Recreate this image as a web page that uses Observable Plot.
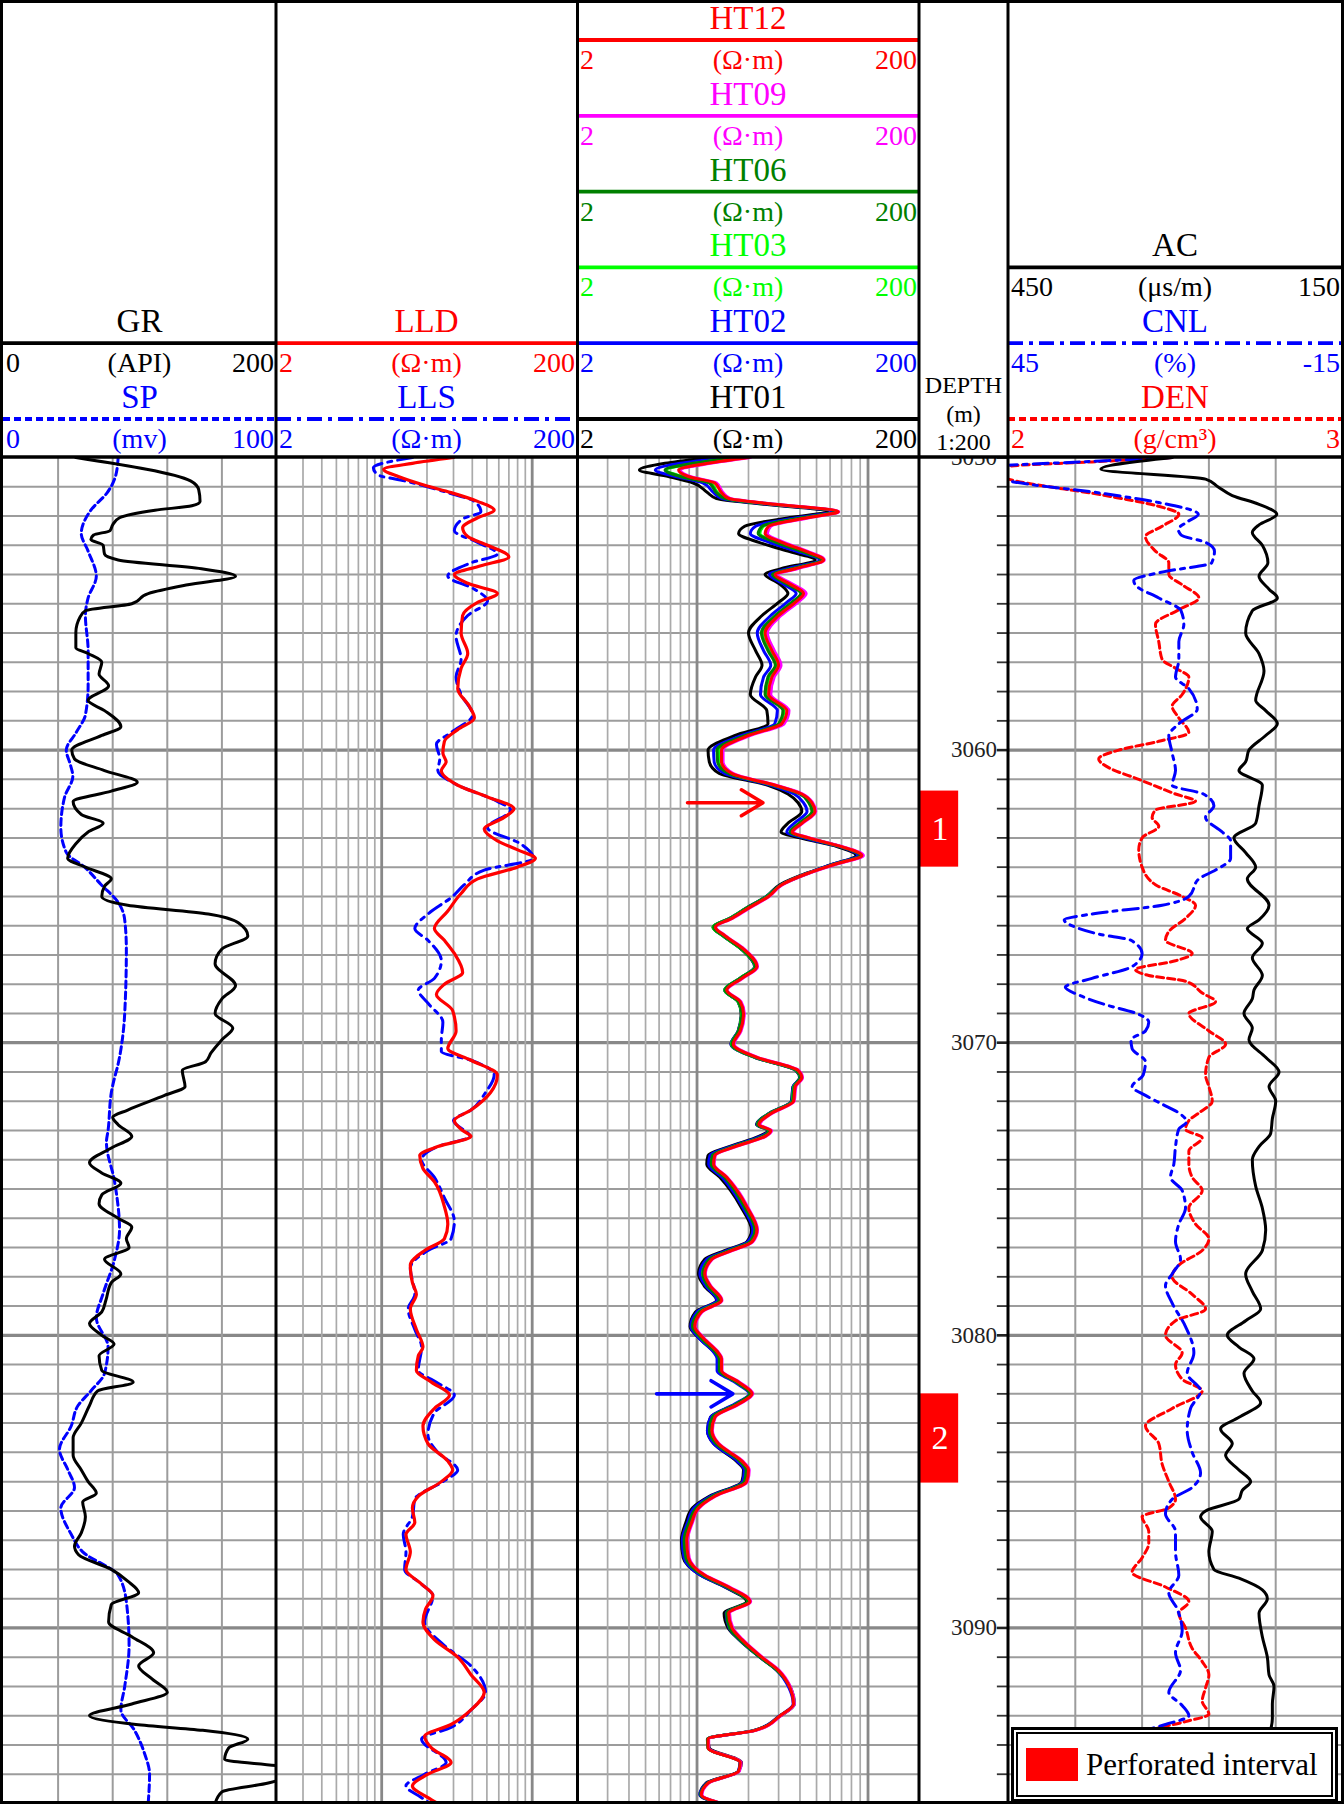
<!DOCTYPE html>
<html>
<head>
<meta charset="utf-8">
<script src="https://cdn.jsdelivr.net/npm/d3@7"></script>
<script src="https://cdn.jsdelivr.net/npm/@observablehq/plot@0.6"></script>
<style>
html, body { margin: 0; padding: 0; background: #fff; }
#root { position: relative; width: 1344px; height: 1804px; overflow: hidden; background: #fff;
  font-family: "Liberation Serif", "Times New Roman", serif; }
</style>
</head>
<body>
<div id="root"></div>
<script>
// ---------------- DATA ----------------
const DEPTH_RANGE = [3050, 3096];
const depthLabels = [3050, 3060, 3070, 3080, 3090];

// [depth (m), value]
const GR = [[3050.0,53],[3050.8,137],[3051.1,143],[3051.5,144],[3051.65,138],[3051.8,111],[3052.06,85],[3052.3,80],[3052.5,78],[3052.65,66],[3052.8,64],[3053.0,73],[3053.3,74],[3053.5,84],[3053.8,145],[3054.06,170],[3054.35,135],[3054.65,106],[3055.0,94],[3055.24,60],[3055.46,56],[3055.98,53],[3056.5,53],[3056.7,62],[3057.0,72],[3057.4,70],[3057.8,77],[3058.3,62],[3058.65,74],[3059.2,86],[3059.5,72],[3060.0,50],[3060.3,52],[3060.7,74],[3061.1,98],[3061.4,79],[3061.76,51],[3062.2,57],[3062.5,73],[3062.8,62],[3063.2,53],[3063.7,47],[3064.0,60],[3064.4,79],[3064.65,74],[3065.0,72],[3065.3,91],[3065.6,150],[3065.9,172],[3066.35,179],[3066.8,160],[3067.3,155],[3068.05,170],[3068.5,160],[3069.0,155],[3069.5,168],[3069.9,160],[3070.35,152],[3070.65,148],[3070.95,131],[3071.5,133],[3071.8,118],[3072.3,91],[3072.55,80],[3072.8,84],[3073.2,94],[3073.6,79],[3074.1,63],[3074.45,72],[3074.8,86],[3075.2,72],[3075.5,70],[3076.0,84],[3076.3,94],[3076.7,90],[3077.0,92],[3077.4,74],[3077.9,86],[3078.2,79],[3078.8,75],[3079.2,72],[3079.6,63],[3080.0,72],[3080.3,81],[3080.7,70],[3081.2,72],[3081.6,95],[3081.9,69],[3082.4,63],[3083.0,57],[3083.5,51],[3084.1,51],[3084.6,57],[3085.0,62],[3085.4,68],[3085.7,58],[3086.2,60],[3086.75,57],[3087.2,52],[3087.5,55],[3088.0,79],[3088.4,91],[3088.8,99],[3089.2,79],[3089.8,77],[3090.3,94],[3090.85,110],[3091.3,99],[3091.75,109],[3092.2,120],[3092.6,94],[3093.0,63],[3093.3,97],[3093.5,146],[3093.8,179],[3094.1,165],[3094.5,162],[3094.75,205],[3095.0,210],[3095.3,194],[3095.6,160],[3096.0,155]];

const SP = [[3050.0,42],[3050.65,41],[3051.2,38],[3051.8,32],[3052.6,28.5],[3053.2,31],[3054.06,34],[3054.8,31],[3055.4,30],[3056.6,31],[3057.8,31],[3058.8,30],[3059.4,26.6],[3060.0,23],[3060.5,24.5],[3060.9,25.4],[3061.6,22.4],[3062.65,21],[3063.5,23],[3064.0,29.7],[3064.6,35.8],[3065.2,42],[3065.8,44.4],[3066.8,45],[3069.0,44.4],[3070.5,42.5],[3071.7,39.5],[3073.0,38.3],[3073.4,37.7],[3074.75,40.7],[3076.4,42.5],[3077.4,40.7],[3078.6,36.4],[3079.4,34],[3080.4,38.3],[3081.3,37],[3081.9,32],[3082.4,27.3],[3083.1,24.8],[3083.9,20.5],[3084.6,23.6],[3085.2,26],[3085.9,21],[3086.8,24.8],[3087.4,29],[3088.2,42],[3089.1,45],[3090.6,46],[3092.0,44.4],[3092.8,43],[3093.5,48],[3094.3,51.7],[3095.0,53.5],[3096.0,53]];

const LLD = [[3050.0,30],[3050.2,16],[3050.4,10.3],[3050.65,12.9],[3050.95,19.3],[3051.2,28.9],[3051.5,43.4],[3051.8,55.9],[3052.06,43.4],[3052.4,34.5],[3052.7,37.3],[3053.0,50.5],[3053.4,70],[3053.7,45.6],[3054.0,30.4],[3054.3,37.3],[3054.65,58.7],[3054.95,43.4],[3055.4,34.5],[3056.0,33.7],[3056.7,37.3],[3057.2,33.7],[3057.9,32],[3058.5,38.2],[3058.9,41.3],[3059.3,32],[3059.7,26.1],[3060.1,25.5],[3060.4,26.8],[3060.7,24.9],[3061.2,32],[3061.6,50.5],[3062.0,75.6],[3062.3,65],[3062.7,48],[3063.1,58.7],[3063.4,79.5],[3063.7,105],[3064.0,79.5],[3064.4,43.4],[3064.9,33.7],[3065.5,27.5],[3066.1,22.4],[3066.5,26.1],[3066.95,30.4],[3067.6,34.5],[3068.0,26.1],[3068.35,23.1],[3068.9,29.6],[3069.6,31.2],[3070.2,27.5],[3070.6,39.2],[3071.1,58.7],[3071.7,52.9],[3072.3,39.2],[3072.66,30.4],[3073.0,34.5],[3073.2,39.2],[3073.55,23.6],[3073.85,17.9],[3074.3,18.8],[3074.75,22.4],[3075.6,26.1],[3076.2,27.5],[3076.7,26.1],[3077.1,19.3],[3077.6,15.5],[3078.2,16],[3078.6,17],[3079.1,15.5],[3079.8,17],[3080.4,18.8],[3080.7,17.5],[3081.2,17],[3081.6,21.4],[3082.05,28.2],[3082.5,22.4],[3083.1,18.8],[3083.7,20.3],[3084.3,27.5],[3084.6,29.6],[3085.0,24.9],[3085.5,17.5],[3085.9,16],[3086.4,16.6],[3086.8,14.5],[3087.4,15.5],[3088.0,14.5],[3088.5,18.4],[3088.9,21.9],[3089.35,19.6],[3089.8,18.8],[3090.4,22.4],[3091.0,32],[3091.6,39.2],[3092.2,48],[3092.8,39.2],[3093.3,28.9],[3093.7,19.3],[3094.1,21.4],[3094.6,28.9],[3095.0,20.3],[3095.4,16],[3095.8,20.3],[3096.0,23.6]];

const LLS = [[3050.0,16],[3050.35,8.8],[3050.6,9.5],[3050.8,14.2],[3051.2,27.5],[3051.5,41.3],[3051.85,45.6],[3052.1,34.5],[3052.5,30.4],[3052.9,43.4],[3053.3,58.7],[3053.6,39.2],[3054.05,27.5],[3054.5,41.3],[3054.9,50.5],[3055.4,37.3],[3056.1,31.2],[3056.9,33.7],[3057.5,31.2],[3058.1,33.7],[3058.8,40.2],[3059.4,28.9],[3059.8,23.1],[3060.3,24.3],[3060.7,23.6],[3061.2,32],[3061.75,58.7],[3062.05,71.9],[3062.65,50.5],[3063.2,83.6],[3063.7,102],[3064.1,48],[3064.6,35.4],[3065.0,29.6],[3065.6,20.3],[3066.1,16.6],[3066.5,20.3],[3067.2,24.9],[3067.8,22.4],[3068.2,17.5],[3068.65,20.3],[3069.3,25.5],[3069.9,24.9],[3070.3,24.9],[3070.6,39.2],[3071.1,55.9],[3071.7,49],[3072.3,39.2],[3072.66,30],[3073.2,38.5],[3073.55,23.6],[3074.0,18.4],[3074.6,22.4],[3075.3,26.1],[3076.1,30.4],[3076.7,28.9],[3077.1,20.3],[3077.7,15.5],[3078.6,16.6],[3079.1,15],[3079.8,16.6],[3080.4,18.4],[3081.2,17.5],[3081.6,23.1],[3082.05,30.4],[3082.65,22.4],[3083.4,20.3],[3084.0,23.6],[3084.6,32],[3085.0,25.5],[3085.6,16.6],[3086.2,16],[3086.8,13.9],[3087.4,14.5],[3088.0,14.2],[3088.5,18.4],[3088.9,21.9],[3089.8,19.3],[3090.6,26.1],[3091.3,39.2],[3092.2,49],[3092.8,39.2],[3093.4,28.9],[3093.8,18.4],[3094.6,26.8],[3095.0,19.3],[3095.4,14.5],[3095.8,18.4],[3096.0,21]];

// array-induction curves share one depth list
const htDepth = [
  3050.0,3050.2,3050.43,3050.65,3050.87,3051.2,3051.4,3051.6,3051.85,3052.05,
  3052.35,3052.6,3052.9,3053.2,3053.5,3053.8,3054.0,3054.3,3054.65,3054.95,
  3055.4,3056.0,3056.6,3057.1,3057.5,3058.1,3058.65,3059.1,3059.5,3060.0,
  3060.4,3060.8,3061.2,3061.5,3061.8,3062.1,3062.5,3062.8,3063.0,3063.3,
  3063.6,3063.9,3064.2,3064.6,3065.0,3065.4,3065.75,3066.05,3066.35,3066.8,
  3067.4,3067.8,3068.2,3068.6,3069.0,3069.6,3070.05,3070.5,3070.95,3071.2,
  3071.5,3072.0,3072.4,3072.8,3073.0,3073.2,3073.55,3073.85,3074.15,3074.6,
  3075.05,3075.6,3076.4,3076.8,3077.1,3077.4,3077.9,3078.3,3078.8,3079.2,
  3079.7,3080.1,3080.6,3080.8,3081.2,3081.6,3082.0,3082.35,3082.8,3083.25,
  3083.7,3084.3,3084.6,3085.0,3085.5,3085.9,3086.4,3087.0,3087.6,3088.2,
  3088.6,3089.1,3089.5,3090.0,3090.4,3091.0,3091.45,3092.05,3092.6,3093.0,
  3093.5,3093.8,3094.1,3094.6,3094.9,3095.3,3095.7,3096.0];

const HT12 = [
  20,11.6,7.8,8.9,12.7,13.9,15.3,28.6,67,45,
  26.2,25,31.3,43,55,37.5,28.6,34.3,42,37.5,
  30,25,27.4,30,27.4,26.2,33.5,31.3,20,13.9,
  13.9,16,28.6,41,47,49,41,36,45,70,
  92,64,45,31.3,26.2,20,16,12.8,14.6,18.7,
  22.4,18.3,14.9,17.9,18.7,17.9,16.3,22.4,39,41,
  37.5,36.7,27.4,23,27,25,16.7,12.7,12.5,14.9,
  17.1,19.5,22.4,21,16,12.2,11.1,11.9,13.9,10.6,
  9.7,10.9,13.3,13.9,13.9,17.5,21,17.5,12.7,12.2,
  13.3,18.3,20,19.5,12.7,10.2,9.3,8.7,8.9,11.1,
  15.3,20.4,15.3,16,18.3,23.9,29.9,35,36.7,30.6,
  21.9,11.6,11.6,17.9,17.5,11.6,10.6,13.9];
const HT09 = [
  20.5,12,8,9.1,13,14.2,15.6,29,67.5,46,
  27,25.8,32.2,44,55.5,38.5,29.5,35.5,43.5,38.8,
  31,25.8,28.3,31,28.3,27,34.5,32.3,20.6,14.2,
  14.2,16.3,29,41.5,47.5,49.5,41.5,36.5,45.5,71,
  94,65,45.5,31.6,26.4,20.2,16.1,12.9,14.7,18.9,
  22.6,18.5,15,18.1,18.9,18.1,16.5,22.6,39.4,41.4,
  37.9,37,27.7,23.3,27.3,25.2,16.9,12.8,12.6,15,
  17.3,19.7,22.6,21.2,16.2,12.3,11.2,12,14,10.7,
  9.8,11,13.4,14,14,17.7,21.2,17.7,12.8,12.3,
  13.4,18.5,20.2,19.7,12.8,10.3,9.4,8.8,9,11.2,
  15.5,20.6,15.5,16.2,18.5,24.1,30.2,35.4,37.1,30.9,
  22.1,11.7,11.7,18.1,17.7,11.7,10.7,14];
const HT06 = [
  17,9.5,6.5,8,11.8,13,14.6,27.5,65,42,
  24,22.8,29,40.5,53.5,36,27.6,33,40.5,35.8,
  28.7,23.8,26,28.7,26,25,31.8,30,19.2,13.1,
  13.2,15.3,28,40,45,47,39.5,35,44,69,
  90,63.5,45,31.2,25.8,19.6,15.7,12.5,14.3,18.3,
  22,17.9,14.6,17.5,18.3,17.5,16,22,38.3,40.3,
  37,36.2,27,22.6,26.5,24.3,16.2,12.3,12.1,14.5,
  16.6,18.9,21.8,20.4,15.5,11.8,10.8,11.5,13.5,10.3,
  9.4,10.6,12.9,13.5,13.5,17,20.4,17,12.3,11.8,
  12.9,17.8,19.4,18.9,12.3,9.9,9,8.4,8.6,10.8,
  14.9,19.8,14.9,15.5,17.8,23.4,29.5,35.2,37,30.6,
  21.8,11.5,11.6,17.9,17.5,11.5,10.5,13.8];
const HT03 = [
  17.5,9.8,6.6,8.2,12,13.2,14.8,27.8,66,43,
  24.5,23.3,29.5,41,54,36.4,28,33.4,41,36.3,
  29,24.1,26.4,29,26.4,25.3,32.2,30.4,19.5,13.4,
  13.4,15.5,28.2,40.5,46,48,40.2,35.4,44.5,69.5,
  91,64,45,31.2,25.6,19.5,15.6,12.4,14.2,18.2,
  21.9,17.8,14.5,17.4,18.2,17.5,15.9,21.9,38.2,40.2,
  36.8,36,26.9,22.6,26.4,24.4,16.3,12.4,12.2,14.6,
  16.7,19,21.9,20.5,15.6,11.9,10.8,11.6,13.6,10.3,
  9.5,10.6,13,13.6,13.6,17.1,20.5,17.1,12.4,11.9,
  13,17.9,19.5,19,12.4,10,9.1,8.5,8.7,10.9,
  15,19.9,15,15.6,17.9,23.5,29.5,35.3,37.1,30.7,
  21.9,11.6,11.6,18,17.6,11.6,10.6,13.9];
const HT02 = [
  15,8,5.7,7.5,10.8,12.5,14,26.5,62,39,
  22,20.5,26.5,38,52,34,26.5,31.5,38,33.5,
  27,22.5,24.5,27,24.5,23.5,29.5,28.5,18.3,12.5,
  12.6,14.5,27,37,42,44,37,33.5,42,68,
  87,62,44.5,31,25.5,19.5,15.6,12.5,14.2,18.2,
  21.8,17.8,14.5,17.4,18.2,17.4,15.8,21.8,38,40,
  36.5,35.7,26.7,22.4,26.4,23.5,15.7,11.9,11.7,14,
  16.1,18.4,21.2,19.8,15,11.4,10.4,11.2,13.1,10,
  9.2,10.3,12.6,13.1,13.1,16.6,20.2,16.6,12,11.5,
  12.5,17.2,18.9,18.5,12,9.6,8.8,8.2,8.4,10.5,
  14.6,19.8,14.8,15.4,17.7,23.3,29.3,34.5,36.5,30.4,
  21.6,11.5,11.6,17.8,17.4,11.4,10.4,13.7];
const HT01 = [
  12,6.5,4.6,6.8,9.5,11.5,13,25,58,35,
  19,17.5,23,34,49,31,25,30,34,30,
  24,20,22,24,22,20.5,25.6,26,16.7,11.6,
  11.8,13.5,26,34,39,41,34,31,40,66,
  85,62,44,30.5,25.4,19.4,15.5,12.4,14.2,18.1,
  21.7,17.8,14.5,17.4,18.1,17.4,15.8,21.7,37.8,39.8,
  36.4,35.6,26.6,22.3,26,23,15.4,11.6,11.4,13.6,
  15.7,18,20.8,19.6,14.6,11.1,10.2,11,13,9.8,
  9.1,10.3,12.7,13.4,13.4,16.9,20.5,16.8,12,11.5,
  12.5,17,18.7,18.3,11.8,9.4,8.6,8.1,8.3,10.5,
  14.5,19.5,14.4,15.2,17.6,23.3,29.3,35,37,30.8,
  21.5,11.6,11.8,18.2,17.5,11.3,10.4,13.7];

const AC = [[3050.0,303],[3050.4,367],[3050.74,273],[3051.0,262],[3051.3,249],[3051.6,225],[3051.94,209],[3052.3,225],[3052.56,231],[3053.0,222],[3053.6,217],[3054.06,225],[3054.5,216],[3054.8,208.5],[3055.24,231],[3056.0,237],[3056.7,225],[3057.3,220.5],[3058.3,228],[3058.65,219],[3059.1,208.5],[3059.5,219],[3060.0,234],[3060.4,237],[3060.7,243],[3061.2,222],[3061.9,225],[3062.5,228],[3063.0,247.5],[3063.5,237],[3064.0,228],[3064.4,235.5],[3065.3,216],[3065.8,225],[3066.1,235.5],[3066.6,222],[3067.1,231],[3067.7,222],[3068.2,229.5],[3068.5,231],[3069.0,238.5],[3069.5,231],[3069.9,234],[3070.5,219],[3071.0,207],[3071.5,216],[3072.0,210],[3072.6,213],[3073.1,214.5],[3073.55,225],[3074.0,231],[3074.9,228],[3075.65,222],[3076.4,219],[3077.1,222],[3077.9,237],[3078.5,231],[3079.1,223.5],[3079.5,237],[3080.0,253.5],[3080.4,243],[3080.8,229.5],[3081.3,238.5],[3081.9,231],[3082.3,223.5],[3082.8,243],[3083.2,259.5],[3083.7,249],[3084.1,255],[3084.6,243],[3085.0,232.5],[3085.3,240],[3085.6,243],[3086.0,273],[3086.2,277.5],[3086.7,267],[3087.4,270],[3088.0,265.5],[3088.3,243],[3088.7,222],[3089.0,217.5],[3089.5,225],[3090.3,222],[3091.0,217.5],[3091.6,216],[3092.0,211.5],[3092.6,213],[3093.1,213],[3094.0,219],[3095.0,231],[3096.0,241.5]];

const CNL = [[3050.0,15.6],[3050.15,32],[3050.3,47],[3050.5,49],[3050.8,45],[3051.24,27.6],[3051.54,18],[3051.94,10.9],[3052.2,12.9],[3052.45,14.5],[3052.65,14],[3052.9,9.6],[3053.2,8],[3053.6,8.5],[3053.9,17],[3054.2,22.5],[3054.4,22],[3054.8,18],[3055.24,14],[3055.7,13.5],[3056.3,14.4],[3056.9,14.4],[3057.5,15],[3057.9,12.6],[3058.6,11.1],[3059.1,14.4],[3059.5,16.2],[3060.1,15.6],[3060.7,15],[3061.2,15.6],[3061.5,10],[3061.9,8.1],[3062.3,9.6],[3062.8,6.6],[3063.1,5.1],[3063.7,5.1],[3064.1,7.8],[3064.4,10.8],[3065.0,12.6],[3065.3,17.4],[3065.6,30],[3065.8,35],[3066.05,33],[3066.3,28.5],[3066.5,23],[3066.95,21],[3067.4,22.8],[3067.8,30],[3068.1,34.8],[3068.4,32],[3068.7,27.6],[3069.0,22],[3069.3,19.8],[3069.6,20.4],[3069.9,23],[3070.2,22.8],[3070.65,20.4],[3071.1,20.8],[3071.5,22.8],[3071.8,20.4],[3072.1,17.4],[3072.4,14.4],[3072.7,13],[3072.95,14.4],[3073.55,15],[3074.15,15.3],[3074.6,15.9],[3075.05,13.8],[3075.65,13.2],[3076.2,14.4],[3076.8,15],[3077.4,14.1],[3077.9,15.6],[3078.3,16.8],[3078.9,15.6],[3079.7,13.2],[3080.6,11.7],[3081.3,12.9],[3081.9,10.5],[3082.5,12.3],[3083.25,12.9],[3084.0,12],[3084.7,10.5],[3085.2,12],[3085.6,15.6],[3086.1,16.8],[3086.7,15],[3087.4,15],[3088.2,14.4],[3088.8,16.2],[3089.35,14.7],[3090.1,13.8],[3090.85,15],[3091.45,14.1],[3092.2,16.2],[3092.65,13.8],[3093.0,12.6],[3093.3,16.8],[3093.5,20.4],[3094.2,28],[3095.0,25],[3095.6,24],[3096.0,23]];

const DEN = [[3050.0,2.49],[3050.15,2.25],[3050.3,2.0],[3050.5,1.95],[3050.74,2.0],[3051.3,2.29],[3051.64,2.44],[3051.94,2.51],[3052.35,2.46],[3052.7,2.41],[3053.2,2.44],[3053.6,2.48],[3054.0,2.48],[3054.35,2.52],[3054.8,2.57],[3055.2,2.51],[3055.7,2.44],[3056.3,2.45],[3056.9,2.46],[3057.2,2.5],[3057.5,2.54],[3058.1,2.52],[3058.5,2.49],[3058.9,2.51],[3059.4,2.54],[3059.7,2.45],[3060.0,2.33],[3060.3,2.27],[3060.6,2.3],[3061.0,2.39],[3061.5,2.5],[3061.75,2.56],[3062.05,2.44],[3062.3,2.43],[3062.6,2.45],[3063.0,2.4],[3063.4,2.39],[3064.0,2.4],[3064.6,2.44],[3065.0,2.52],[3065.3,2.56],[3065.75,2.53],[3066.2,2.48],[3066.5,2.47],[3066.95,2.55],[3067.2,2.5],[3067.5,2.38],[3067.7,2.42],[3067.9,2.53],[3068.3,2.58],[3068.6,2.62],[3069.0,2.54],[3069.6,2.6],[3070.05,2.65],[3070.5,2.6],[3071.1,2.59],[3071.5,2.6],[3072.0,2.61],[3072.4,2.57],[3072.66,2.54],[3072.96,2.53],[3073.25,2.58],[3073.7,2.54],[3074.15,2.54],[3074.6,2.55],[3075.05,2.58],[3075.65,2.54],[3076.2,2.56],[3076.7,2.6],[3077.1,2.58],[3077.6,2.51],[3078.0,2.49],[3078.6,2.55],[3079.1,2.59],[3079.5,2.5],[3080.0,2.47],[3080.6,2.52],[3081.0,2.5],[3081.5,2.52],[3081.9,2.58],[3082.5,2.49],[3083.1,2.41],[3083.7,2.45],[3084.4,2.46],[3085.0,2.48],[3085.6,2.5],[3085.9,2.48],[3086.2,2.4],[3086.7,2.42],[3087.1,2.42],[3087.6,2.4],[3088.1,2.37],[3088.6,2.47],[3089.1,2.54],[3089.5,2.51],[3090.0,2.53],[3090.7,2.55],[3091.15,2.58],[3091.6,2.6],[3092.05,2.59],[3092.5,2.58],[3092.95,2.6],[3093.2,2.53],[3093.5,2.43],[3094.2,2.38],[3095.0,2.36],[3095.7,2.39],[3096.0,2.54]];

// perforated intervals and annotation arrows
const perforations = [{top: 3061.4, bottom: 3064.0, label: "1"}, {top: 3082.0, bottom: 3085.05, label: "2"}];
const arrows = [{depth: 3061.8, from: 8.8, to: 24.3, color: "#ff0000"}, {depth: 3082.0, from: 5.8, to: 16.2, color: "#0000ff"}];

// header definitions
const headerCurves = [
  {track: "t1", row: 4, name: "GR",   unit: "(API)",   min: "0",   max: "200", color: "#000000", dash: null},
  {track: "t1", row: 5, name: "SP",   unit: "(mv)",    min: "0",   max: "100", color: "#0000ff", dash: "7,4"},
  {track: "t2", row: 4, name: "LLD",  unit: "(Ω·m)",   min: "2",   max: "200", color: "#ff0000", dash: null},
  {track: "t2", row: 5, name: "LLS",  unit: "(Ω·m)",   min: "2",   max: "200", color: "#0000ff", dash: "15,6,4,6"},
  {track: "t3", row: 0, name: "HT12", unit: "(Ω·m)",   min: "2",   max: "200", color: "#ff0000", dash: null},
  {track: "t3", row: 1, name: "HT09", unit: "(Ω·m)",   min: "2",   max: "200", color: "#ff00ff", dash: null},
  {track: "t3", row: 2, name: "HT06", unit: "(Ω·m)",   min: "2",   max: "200", color: "#008000", dash: null},
  {track: "t3", row: 3, name: "HT03", unit: "(Ω·m)",   min: "2",   max: "200", color: "#00ff00", dash: null},
  {track: "t3", row: 4, name: "HT02", unit: "(Ω·m)",   min: "2",   max: "200", color: "#0000ff", dash: null},
  {track: "t3", row: 5, name: "HT01", unit: "(Ω·m)",   min: "2",   max: "200", color: "#000000", dash: null},
  {track: "t5", row: 3, name: "AC",   unit: "(μs/m)",  min: "450", max: "150", color: "#000000", dash: null},
  {track: "t5", row: 4, name: "CNL",  unit: "(%)",     min: "45",  max: "-15", color: "#0000ff", dash: "15,6,4,6"},
  {track: "t5", row: 5, name: "DEN",  unit: "(g/cm³)", min: "2",   max: "3",   color: "#ff0000", dash: "7,4"}
];
const depthHeader = ["DEPTH", "(m)", "1:200"];
const legendLabel = "Perforated interval";

// ---------------- LAYOUT ----------------
const W = 1344, H = 1804, TOP = 457, BOTTOM = 1803, PH = BOTTOM - TOP;
const FONT = '"Liberation Serif", "Times New Roman", serif';
const TR = {t1: [3, 276], t2: [276, 577], t3: [577, 919], td: [919, 1008], t5: [1008, 1342]};
const root = document.getElementById("root");

function place(el, left, top, z) {
  const d = document.createElement("div");
  d.style.cssText = `position:absolute;left:${left}px;top:${top}px;z-index:${z};line-height:0;`;
  d.appendChild(el);
  root.appendChild(d);
}
function trackPlot(key, x, marks, z) {
  const [x0, x1] = TR[key];
  const p = Plot.plot({
    width: x1 - x0, height: PH,
    marginTop: 0, marginBottom: 0, marginLeft: 0, marginRight: 0,
    x: {...x, axis: null},
    y: {domain: DEPTH_RANGE, range: [0, PH], axis: null},
    style: {background: "transparent", overflow: "hidden", maxWidth: "none", fontFamily: FONT},
    marks
  });
  place(p, x0, TOP, z);
}

const gridDepths = d3.range(DEPTH_RANGE[0] + 1, DEPTH_RANGE[1]);
const minorDepths = gridDepths.filter(d => d % 10 !== 0);
const majorDepths = gridDepths.filter(d => d % 10 === 0);
const depthGrid = [
  Plot.ruleY(minorDepths, {stroke: "#9c9c9c", strokeWidth: 2}),
  Plot.ruleY(majorDepths, {stroke: "#888888", strokeWidth: 3.2})
];
const logMinor = [3,4,5,6,7,8,9,20,30,40,50,60,70,80,90];
const logMajor = [10, 100];
const logGrid = [
  Plot.ruleX(logMinor, {stroke: "#aaaaaa", strokeWidth: 1.7}),
  Plot.ruleX(logMajor, {stroke: "#888888", strokeWidth: 2.8})
];
const curve = (data, stroke, dash, w = 3) => Plot.line(data, {
  x: d => d[1], y: d => d[0], stroke, strokeWidth: w, strokeDasharray: dash || undefined,
  curve: "monotone-y", clip: true
});
const htCurve = (vals, stroke) => Plot.line(htDepth.map((d, i) => [d, vals[i]]), {
  x: d => d[1], y: d => d[0], stroke, strokeWidth: 3, curve: "monotone-y", clip: true
});

// Track 1 : SP (with grid) + GR
trackPlot("t1", {domain: [0, 100]}, [
  ...depthGrid,
  Plot.ruleX([20, 40, 60, 80], {stroke: "#9c9c9c", strokeWidth: 2}),
  curve(SP, "#0000ff", "7,4", 3)
], 1);
trackPlot("t1", {domain: [0, 200]}, [curve(GR, "#000000", null, 3)], 2);

// Track 2 : LLD / LLS
trackPlot("t2", {type: "log", domain: [2, 200]}, [
  ...depthGrid, ...logGrid,
  curve(LLS, "#0000ff", "15,6,4,6", 3),
  curve(LLD, "#ff0000", null, 3.2)
], 1);

// Track 3 : HT curves + arrows
trackPlot("t3", {type: "log", domain: [2, 200]}, [
  ...depthGrid, ...logGrid,
  htCurve(HT01, "#000000"),
  htCurve(HT02, "#0000ff"),
  htCurve(HT03, "#00ff00"),
  htCurve(HT06, "#008000"),
  htCurve(HT09, "#ff00ff"),
  htCurve(HT12, "#ff0000"),
  ...arrows.map(a => Plot.arrow([a], {x1: "from", x2: "to", y1: "depth", y2: "depth",
    stroke: a.color, strokeWidth: 3.6, headLength: 11, headAngle: 62}))
], 1);

// Depth track
trackPlot("td", {domain: [0, 1]}, [
  Plot.rect(perforations, {x1: () => 0, x2: () => 0.44, y1: "top", y2: "bottom", fill: "#ff0000"}),
  Plot.text(perforations, {x: () => 0.23, y: d => (d.top + d.bottom) / 2, text: "label",
    fill: "#ffffff", fontSize: 34, fontFamily: FONT}),
  Plot.ruleY(gridDepths, {x1: () => 0.875, x2: () => 1, stroke: "#333", strokeWidth: 1.8}),
  Plot.ruleY(depthLabels, {x1: () => 0.875, x2: () => 1, stroke: "#222", strokeWidth: 2.6}),
  Plot.text(depthLabels, {x: () => 0.87, y: d => d, text: d => String(d), textAnchor: "end",
    fontSize: 23, fontFamily: FONT, fill: "#222", clip: true})
], 1);

// Track 5 : DEN (with grid), CNL, AC
trackPlot("t5", {domain: [2, 3]}, [
  ...depthGrid,
  Plot.ruleX([2.2, 2.4, 2.6, 2.8], {stroke: "#9c9c9c", strokeWidth: 2}),
  curve(DEN, "#ff0000", "7,4", 3)
], 1);
trackPlot("t5", {domain: [45, -15]}, [curve(CNL, "#0000ff", "15,6,4,6", 3)], 2);
trackPlot("t5", {domain: [450, 150]}, [curve(AC, "#000000", null, 3)], 3);

// ---------------- HEADER & FRAME ----------------
const svg = d3.create("svg").attr("width", W).attr("height", H)
  .style("position", "absolute").style("left", "0px").style("top", "0px")
  .style("z-index", 5).style("pointer-events", "none");
svg.append("rect").attr("x", 0).attr("y", 0).attr("width", W).attr("height", TOP).attr("fill", "#fff");

const rowLine = r => 40 + 75.8 * r;
function txt(x, y, s, size, color, anchor) {
  svg.append("text").attr("x", x).attr("y", y).attr("text-anchor", anchor)
    .attr("font-size", size).attr("font-family", FONT).attr("fill", color).text(s);
}
headerCurves.forEach(h => {
  const [x0, x1] = TR[h.track];
  const ly = rowLine(h.row);
  const cx = (x0 + x1) / 2;
  svg.append("line").attr("x1", x0).attr("x2", x1).attr("y1", ly).attr("y2", ly)
    .attr("stroke", h.color).attr("stroke-width", 3.8)
    .attr("stroke-dasharray", h.dash);
  txt(cx, ly - 11, h.name, 33, h.color, "middle");
  txt(x0 + 3, ly + 29, h.min, 28, h.color, "start");
  txt(cx, ly + 29, h.unit, 28, h.color, "middle");
  txt(x1 - 2, ly + 29, h.max, 28, h.color, "end");
});
const dcx = (TR.td[0] + TR.td[1]) / 2;
[393, 422, 450].forEach((y, i) => txt(dcx, y, depthHeader[i], 24, "#000", "middle"));

// frame
svg.append("rect").attr("x", 1.5).attr("y", 1.5).attr("width", W - 3).attr("height", H - 3)
  .attr("fill", "none").attr("stroke", "#000").attr("stroke-width", 3);
[276, 577.5, 919, 1008].forEach(x => svg.append("line").attr("x1", x).attr("x2", x)
  .attr("y1", 0).attr("y2", H).attr("stroke", "#000").attr("stroke-width", 3));
svg.append("line").attr("x1", 0).attr("x2", W).attr("y1", TOP).attr("y2", TOP)
  .attr("stroke", "#000").attr("stroke-width", 3.5);
root.appendChild(svg.node());

// ---------------- LEGEND ----------------
const legend = document.createElement("div");
legend.style.cssText = "position:absolute;left:1011px;top:1727px;width:327px;height:75px;box-sizing:border-box;" +
  "border:3px solid #000;box-shadow:inset 0 0 0 2px #fff, inset 0 0 0 4px #000;background:#fff;z-index:6;" +
  "display:flex;align-items:center;padding-left:12px;gap:8px;";
const sw = document.createElement("div");
sw.style.cssText = "width:52px;height:33px;background:#ff0000;flex:none;";
const lt = document.createElement("span");
lt.textContent = legendLabel;
lt.style.cssText = `font-family:${FONT};font-size:31px;color:#000;white-space:nowrap;`;
legend.appendChild(sw); legend.appendChild(lt);
root.appendChild(legend);
</script>
</body>
</html>
